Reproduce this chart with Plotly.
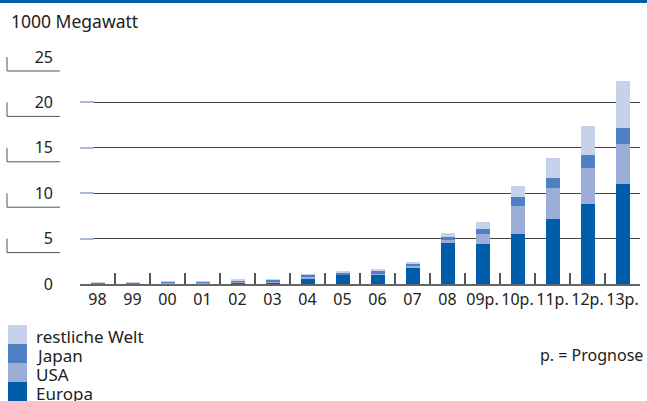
import plotly.graph_objects as go

categories = ["98", "99", "00", "01", "02", "03", "04", "05", "06", "07",
              "08", "09p.", "10p.", "11p.", "12p.", "13p."]
europa = [0.05, 0.05, 0.10, 0.10, 0.15, 0.20, 0.66, 1.00, 1.00, 1.87,
          4.50, 4.40, 5.50, 7.14, 8.80, 11.00]
usa = [0.05, 0.05, 0.05, 0.05, 0.07, 0.07, 0.10, 0.10, 0.15, 0.15,
       0.34, 1.10, 3.07, 3.40, 3.95, 4.40]
japan = [0.07, 0.08, 0.12, 0.12, 0.18, 0.22, 0.27, 0.20, 0.28, 0.20,
         0.36, 0.54, 1.00, 1.10, 1.43, 1.76]
rest = [0.03, 0.03, 0.05, 0.06, 0.05, 0.06, 0.07, 0.05, 0.22, 0.20,
        0.44, 0.76, 1.20, 2.20, 3.18, 5.16]
y_ticks = [0, 5, 10, 15, 20, 25]

C_EU = "rgb(0,93,170)"
C_US = "rgb(155,174,216)"
C_JP = "rgb(80,128,196)"
C_RW = "rgb(198,209,234)"

W, H = 647, 401
ML, MR, MT, MB = 80, 7, 57, 117
PW = W - ML - MR
PH = H - MT - MB
FONT = "Noto Sans"
TXT = "#222222"


def px(x):
    return (x - ML) / PW


def py(y):
    return (H - MB - y) / PH


fig = go.Figure()
for name, vals, col in [("Europa", europa, C_EU), ("USA", usa, C_US),
                        ("Japan", japan, C_JP), ("restliche Welt", rest, C_RW)]:
    fig.add_trace(go.Bar(x=categories, y=vals, name=name, marker_color=col,
                         marker_line_width=0, showlegend=False))

shapes = []
# top blue band
shapes.append(dict(type="rect", xref="paper", yref="paper",
                   x0=px(0), x1=px(W), y0=py(0), y1=py(3),
                   fillcolor=C_EU, line_width=0, layer="above"))
# y label brackets
for v in y_ticks:
    off = 11 if v == 0 else 14
    shapes.append(dict(type="path", xref="paper", yref="y",
                       ysizemode="pixel", yanchor=v,
                       path=f"M {px(7)},0 L {px(7)},{-off} L {px(60)},{-off}",
                       line=dict(color="#555555", width=1)))
# legend swatches
leg = [("restliche Welt", C_RW), ("Japan", C_JP), ("USA", C_US), ("Europa", C_EU)]
annotations = []
top = 325
for i, (name, col) in enumerate(leg):
    y0 = top + i * 19
    shapes.append(dict(type="rect", xref="paper", yref="paper",
                       x0=px(8), x1=px(27), y0=py(y0), y1=py(y0 + 19),
                       fillcolor=col, line_width=0))
    annotations.append(dict(text=name, xref="paper", yref="paper",
                            x=px(34), y=py(y0 + 11), xanchor="left",
                            yanchor="middle", showarrow=False,
                            font=dict(family=FONT, size=17, color=TXT)))

annotations.append(dict(text="1000 Megawatt", xref="paper", yref="paper",
                        x=px(9), y=py(21), xanchor="left", yanchor="middle",
                        showarrow=False,
                        font=dict(family=FONT, size=17.5, color=TXT)))
annotations.append(dict(text="p. = Prognose", xref="paper", yref="paper",
                        x=px(645), y=py(355), xanchor="right", yanchor="middle",
                        showarrow=False,
                        font=dict(family=FONT, size=16, color=TXT)))

fig.update_layout(
    width=W, height=H,
    margin=dict(l=ML, r=MR, t=MT, b=MB, pad=0),
    paper_bgcolor="white", plot_bgcolor="white",
    barmode="stack", bargap=0.6,
    font=dict(family=FONT, size=16, color=TXT),
    shapes=shapes, annotations=annotations,
    xaxis=dict(type="category", categoryorder="array", categoryarray=categories,
               range=[-0.5, len(categories) - 0.5],
               ticks="inside", tickson="boundaries", ticklen=11,
               tickcolor="#555555", tickwidth=1.5, tickangle=0,
               showline=True, linecolor="#666666", linewidth=2,
               showgrid=False, fixedrange=True,
               tickfont=dict(family=FONT, size=16, color=TXT)),
    yaxis=dict(range=[0, 25], tickvals=y_ticks, ticks="inside", ticklen=14,
               tickcolor="rgb(169,185,220)", tickwidth=2,
               showgrid=True, gridcolor="#444444", gridwidth=1,
               zeroline=False, showline=False, ticklabelstandoff=26,
               tickfont=dict(family=FONT, size=16, color=TXT)),
)

fig.write_html("out.html")
